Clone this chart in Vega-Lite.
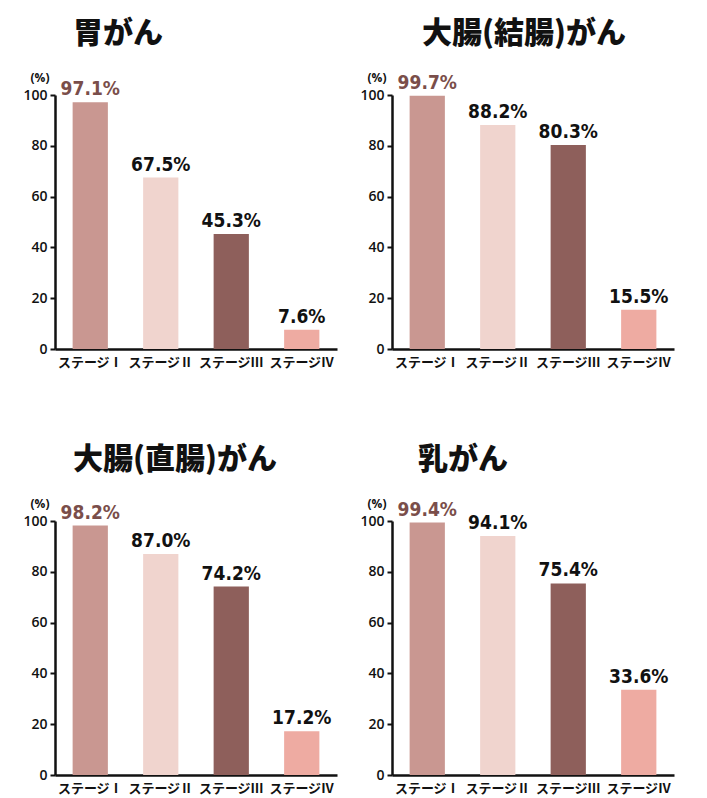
{
  "$schema": "https://vega.github.io/schema/vega-lite/v6.json",
  "background": "#ffffff",
  "padding": {"left": 22, "top": 19, "right": 5, "bottom": 0},
  "data": {
    "values": [
      {"cancer": "胃がん", "stage": "ステージⅠ", "value": 97.1, "label": "97.1%"},
      {"cancer": "胃がん", "stage": "ステージⅡ", "value": 67.5, "label": "67.5%"},
      {"cancer": "胃がん", "stage": "ステージⅢ", "value": 45.3, "label": "45.3%"},
      {"cancer": "胃がん", "stage": "ステージⅣ", "value": 7.6, "label": "7.6%"},
      {"cancer": "大腸(結腸)がん", "stage": "ステージⅠ", "value": 99.7, "label": "99.7%"},
      {"cancer": "大腸(結腸)がん", "stage": "ステージⅡ", "value": 88.2, "label": "88.2%"},
      {"cancer": "大腸(結腸)がん", "stage": "ステージⅢ", "value": 80.3, "label": "80.3%"},
      {"cancer": "大腸(結腸)がん", "stage": "ステージⅣ", "value": 15.5, "label": "15.5%"},
      {"cancer": "大腸(直腸)がん", "stage": "ステージⅠ", "value": 98.2, "label": "98.2%"},
      {"cancer": "大腸(直腸)がん", "stage": "ステージⅡ", "value": 87.0, "label": "87.0%"},
      {"cancer": "大腸(直腸)がん", "stage": "ステージⅢ", "value": 74.2, "label": "74.2%"},
      {"cancer": "大腸(直腸)がん", "stage": "ステージⅣ", "value": 17.2, "label": "17.2%"},
      {"cancer": "乳がん", "stage": "ステージⅠ", "value": 99.4, "label": "99.4%"},
      {"cancer": "乳がん", "stage": "ステージⅡ", "value": 94.1, "label": "94.1%"},
      {"cancer": "乳がん", "stage": "ステージⅢ", "value": 75.4, "label": "75.4%"},
      {"cancer": "乳がん", "stage": "ステージⅣ", "value": 33.6, "label": "33.6%"}
    ]
  },
  "spacing": 76,
  "vconcat": [
    {
      "spacing": 22,
      "hconcat": [
        {
          "title": {"text": "胃がん", "dx": 18},
          "transform": [{"filter": "datum.cancer === '胃がん'"}],
          "width": 282, "height": 254,
          "encoding": {
            "x": {"field": "stage", "type": "nominal", "sort": ["ステージⅠ", "ステージⅡ", "ステージⅢ", "ステージⅣ"], "scale": {"paddingInner": 0.5, "paddingOuter": 0.25}, "axis": {"title": null}},
            "y": {"field": "value", "type": "quantitative", "scale": {"domain": [0, 100], "nice": false}, "axis": {"title": "(%)"}}
          },
          "layer": [
            {"mark": "bar", "encoding": {"color": {"field": "stage", "type": "nominal", "legend": null, "scale": {"domain": ["ステージⅠ", "ステージⅡ", "ステージⅢ", "ステージⅣ"], "range": ["#c99791", "#f0d4ce", "#8e5f5b", "#eeaba2"]}}}},
            {"mark": {"type": "text", "style": "vlabel"}, "encoding": {"text": {"field": "label", "type": "nominal"}, "color": {"condition": {"test": "datum.stage === 'ステージⅠ'", "value": "#7a4e4a"}, "value": "#111111"}}}
          ]
        },
        {
          "title": {"text": "大腸(結腸)がん", "dx": 30},
          "transform": [{"filter": "datum.cancer === '大腸(結腸)がん'"}],
          "width": 282, "height": 254,
          "encoding": {
            "x": {"field": "stage", "type": "nominal", "sort": ["ステージⅠ", "ステージⅡ", "ステージⅢ", "ステージⅣ"], "scale": {"paddingInner": 0.5, "paddingOuter": 0.25}, "axis": {"title": null}},
            "y": {"field": "value", "type": "quantitative", "scale": {"domain": [0, 100], "nice": false}, "axis": {"title": "(%)"}}
          },
          "layer": [
            {"mark": "bar", "encoding": {"color": {"field": "stage", "type": "nominal", "legend": null, "scale": {"domain": ["ステージⅠ", "ステージⅡ", "ステージⅢ", "ステージⅣ"], "range": ["#c99791", "#f0d4ce", "#8e5f5b", "#eeaba2"]}}}},
            {"mark": {"type": "text", "style": "vlabel"}, "encoding": {"text": {"field": "label", "type": "nominal"}, "color": {"condition": {"test": "datum.stage === 'ステージⅠ'", "value": "#7a4e4a"}, "value": "#111111"}}}
          ]
        }
      ]
    },
    {
      "spacing": 22,
      "hconcat": [
        {
          "title": {"text": "大腸(直腸)がん", "dx": 18},
          "transform": [{"filter": "datum.cancer === '大腸(直腸)がん'"}],
          "width": 282, "height": 254,
          "encoding": {
            "x": {"field": "stage", "type": "nominal", "sort": ["ステージⅠ", "ステージⅡ", "ステージⅢ", "ステージⅣ"], "scale": {"paddingInner": 0.5, "paddingOuter": 0.25}, "axis": {"title": null}},
            "y": {"field": "value", "type": "quantitative", "scale": {"domain": [0, 100], "nice": false}, "axis": {"title": "(%)"}}
          },
          "layer": [
            {"mark": "bar", "encoding": {"color": {"field": "stage", "type": "nominal", "legend": null, "scale": {"domain": ["ステージⅠ", "ステージⅡ", "ステージⅢ", "ステージⅣ"], "range": ["#c99791", "#f0d4ce", "#8e5f5b", "#eeaba2"]}}}},
            {"mark": {"type": "text", "style": "vlabel"}, "encoding": {"text": {"field": "label", "type": "nominal"}, "color": {"condition": {"test": "datum.stage === 'ステージⅠ'", "value": "#7a4e4a"}, "value": "#111111"}}}
          ]
        },
        {
          "title": {"text": "乳がん", "dx": 26},
          "transform": [{"filter": "datum.cancer === '乳がん'"}],
          "width": 282, "height": 254,
          "encoding": {
            "x": {"field": "stage", "type": "nominal", "sort": ["ステージⅠ", "ステージⅡ", "ステージⅢ", "ステージⅣ"], "scale": {"paddingInner": 0.5, "paddingOuter": 0.25}, "axis": {"title": null}},
            "y": {"field": "value", "type": "quantitative", "scale": {"domain": [0, 100], "nice": false}, "axis": {"title": "(%)"}}
          },
          "layer": [
            {"mark": "bar", "encoding": {"color": {"field": "stage", "type": "nominal", "legend": null, "scale": {"domain": ["ステージⅠ", "ステージⅡ", "ステージⅢ", "ステージⅣ"], "range": ["#c99791", "#f0d4ce", "#8e5f5b", "#eeaba2"]}}}},
            {"mark": {"type": "text", "style": "vlabel"}, "encoding": {"text": {"field": "label", "type": "nominal"}, "color": {"condition": {"test": "datum.stage === 'ステージⅠ'", "value": "#7a4e4a"}, "value": "#111111"}}}
          ]
        }
      ]
    }
  ],
  "config": {
    "view": {"stroke": null},
    "title": {
      "anchor": "start",
      "frame": "group",
      "font": "Noto Sans CJK JP",
      "fontSize": 30,
      "fontWeight": 900,
      "color": "#111111",
      "offset": 22
    },
    "style": {
      "vlabel": {"baseline": "bottom", "dy": -3, "font": "DejaVu Sans Condensed", "fontWeight": "bold", "fontSize": 19}
    },
    "axisX": {
      "labelAngle": 0,
      "ticks": false,
      "domainColor": "#111111",
      "domainWidth": 2.5,
      "labelFont": "Noto Sans CJK JP",
      "labelFontWeight": "bold",
      "labelFontSize": 13,
      "labelColor": "#111111",
      "labelPadding": 7
    },
    "axisY": {
      "titleAngle": 0,
      "titleX": -6,
      "titleY": -14,
      "titleAlign": "right",
      "titleBaseline": "alphabetic",
      "titleFont": "Open Sans",
      "titleFontSize": 12,
      "titleFontWeight": "bold",
      "titleColor": "#111111",
      "values": [0, 20, 40, 60, 80, 100],
      "grid": false,
      "tickSize": 5,
      "tickWidth": 2,
      "tickColor": "#111111",
      "domainColor": "#111111",
      "domainWidth": 2.5,
      "labelFont": "Open Sans",
      "labelFontWeight": 600,
      "labelFontSize": 14,
      "labelColor": "#111111",
      "labelPadding": 3
    }
  }
}
